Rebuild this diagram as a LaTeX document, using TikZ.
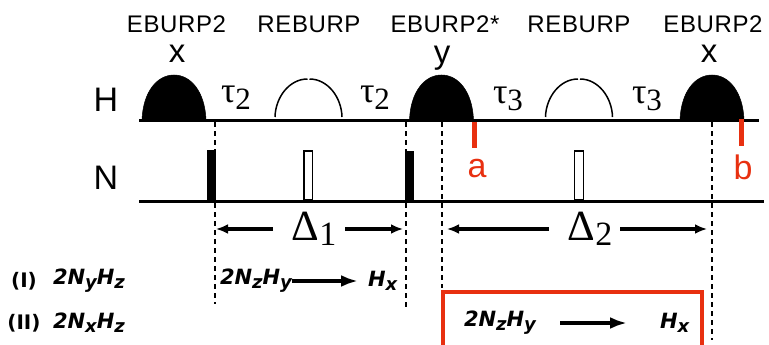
\documentclass[tikz,border=0pt]{standalone}
\usepackage{fontspec}
\setmainfont{Liberation Sans}
\newfontfamily\serifgr{Liberation Serif}
\newfontfamily\spinfont{DejaVu Sans}
\definecolor{rd}{RGB}{232,48,16}
\usetikzlibrary{arrows.meta}
\tikzset{
 x=1pt,y=-1pt,
 every node/.style={inner sep=0pt,outer sep=0pt,anchor=center},
 seqline/.style={line width=3pt,black},
 dash line/.style={line width=1.6pt,dash pattern=on 5pt off 4pt},
 shaped/.style={fill=black,draw=black,line width=.5pt},
 rearc/.style={line width=1.5pt},
 hardp/.style={fill=black,draw=black,line width=.5pt},
 openp/.style={fill=white,draw=black,line width=1.5pt},
 redbar/.style={line width=5pt,rd},
 redbox/.style={line width=4pt,rd},
 dimline/.style={line width=3.4pt,-{Latex[length=12pt,width=10pt]}},
 transline/.style={line width=3.4pt,-{Latex[length=17pt,width=12pt]}},
 pname/.style={font=\fontsize{24}{26}\selectfont\addfontfeature{LetterSpace=2.5}},
 phase/.style={font=\fontsize{33}{35}\selectfont},
 chan/.style={font=\fontsize{34}{36}\selectfont},
 red lab/.style={font=\fontsize{34}{36}\selectfont,text=rd},
 gk/.style={font=\serifgr\fontsize{36}{38}\selectfont},
 gkb/.style={font=\serifgr\fontsize{43}{45}\selectfont},
 spin/.style={font=\spinfont\bfseries\itshape\fontsize{21}{23}\selectfont},
 roman/.style={font=\spinfont\bfseries\fontsize{20}{22}\selectfont},
}
\newcommand{\sbs}[1]{\raisebox{-4pt}{\fontsize{18}{20}\selectfont #1}}
\newcommand{\gsb}[1]{\raisebox{-7pt}{\fontsize{31}{33}\selectfont #1}}
\newcommand{\shapedp}[1]{%
 \fill[shaped] (#1-32,120) .. controls (#1-31,92) and (#1-17,75) .. (#1,75) .. controls (#1+17,75) and (#1+31,92) .. (#1+32,120) -- cycle;}
\newcommand{\rearcp}[1]{%
 \draw[rearc] (#1-33.5,117) .. controls (#1-33,97) and (#1-19,79) .. (#1-1,79);
 \draw[rearc] (#1+33.5,117) .. controls (#1+33,97) and (#1+19,79) .. (#1+1,79);}
\begin{document}
\begin{tikzpicture}
\useasboundingbox (0,0) rectangle (769,345);
% coordinates
\coordinate (hl) at (139,120); \coordinate (hr) at (759,120);
\coordinate (nl) at (139,201); \coordinate (nr) at (764,201);
\coordinate (d1t) at (215,122); \coordinate (d1b) at (215,304);
\coordinate (d2t) at (406,122); \coordinate (d2b) at (406,307);
\coordinate (d3t) at (442,122); \coordinate (d3b) at (442,288);
\coordinate (d4t) at (712,122); \coordinate (d4b) at (712,340);
\draw[dash line] (d1t) -- (d1b);
\draw[dash line] (d2t) -- (d2b);
\draw[dash line] (d3t) -- (d3b);
\draw[dash line] (d4t) -- (d4b);
% lines
\draw[seqline] (hl) -- (hr);
\draw[seqline] (nl) -- (nr);
% shaped pulses
\shapedp{174}
\shapedp{441.5}
\shapedp{712}
\rearcp{308.5}
\rearcp{579}
% hard pulses
\draw[hardp] (207.5,150) rectangle (215.5,201);
\draw[hardp] (405.5,151) rectangle (413.5,201);
\draw[openp] (304,151) rectangle (312.5,200);
\draw[openp] (574.5,151) rectangle (583.5,200);
% red markers
\coordinate (at) at (474,122); \coordinate (ab) at (474,148);
\coordinate (bt) at (741,119); \coordinate (bb) at (741,146);
\draw[redbar] (at) -- (ab);
\draw[redbar] (bt) -- (bb);
\node[red lab] (la) at (477,169) {a};
\node[red lab] (lb) at (743,167) {b};
% labels
\node[pname] (p1) at (176.5,24) {EBURP2};
\node[pname] (p2) at (309,24) {REBURP};
\node[pname] (p3) at (445,24) {EBURP2*};
\node[pname] (p4) at (579,24) {REBURP};
\node[pname] (p5) at (713,24) {EBURP2};
\node[phase] (x1) at (177,54) {x};
\node[phase] (y1) at (442,58) {y};
\node[phase] (x2) at (709,54) {x};
\node[chan] (H) at (106,100) {H};
\node[chan] (N) at (106,178) {N};
\node[gk] (t1) at (236,98) {τ\gsb{2}};
\node[gk] (t2) at (375,98) {τ\gsb{2}};
\node[gk] (t3) at (508,99) {τ\gsb{3}};
\node[gk] (t4) at (647,99) {τ\gsb{3}};
% delays
\node[gkb] (D1) at (314,229) {Δ\raisebox{-5pt}{\fontsize{34}{36}\selectfont 1}};
\node[gkb] (D2) at (590,229) {Δ\raisebox{-5pt}{\fontsize{34}{36}\selectfont 2}};
\coordinate (a1) at (216,229); \coordinate (a2) at (403,229);
\coordinate (a3) at (447,229); \coordinate (a4) at (707,229);
\coordinate (b1) at (273,229); \coordinate (b2) at (345,229);
\coordinate (b3) at (549,229); \coordinate (b4) at (620,229);
\draw[dimline] (b1) -- (a1);
\draw[dimline] (b2) -- (a2);
\draw[dimline] (b3) -- (a3);
\draw[dimline] (b4) -- (a4);
% red box
\coordinate (r1) at (443,347); \coordinate (r2) at (443,292);
\coordinate (r3) at (702,292); \coordinate (r4) at (702,347);
\draw[redbox] (r1) -- (r2) -- (r3) -- (r4);
% spin terms
\node[roman] (i) at (24,281) {(I)};
\node[roman] (ii) at (24,323) {(II)};
\node[spin,anchor=west] (s1) at (53,281) {2N\sbs{y}H\sbs{z}};
\node[spin,anchor=west] (s2) at (53,323) {2N\sbs{x}H\sbs{z}};
\node[spin,anchor=west] (s3) at (220,281) {2N\sbs{z}H\sbs{y}};
\node[spin,anchor=west] (s4) at (368,281) {H\sbs{x}};
\node[spin,anchor=west] (s5) at (464,323) {2N\sbs{z}H\sbs{y}};
\node[spin,anchor=west] (s6) at (660,323) {H\sbs{x}};
\coordinate (e1) at (358,281); \coordinate (e2) at (627,323);
\coordinate (f1) at (292,281); \coordinate (f2) at (560,323);
\draw[transline] (f1) -- (e1);
\draw[transline] (f2) -- (e2);
\end{tikzpicture}
\end{document}
